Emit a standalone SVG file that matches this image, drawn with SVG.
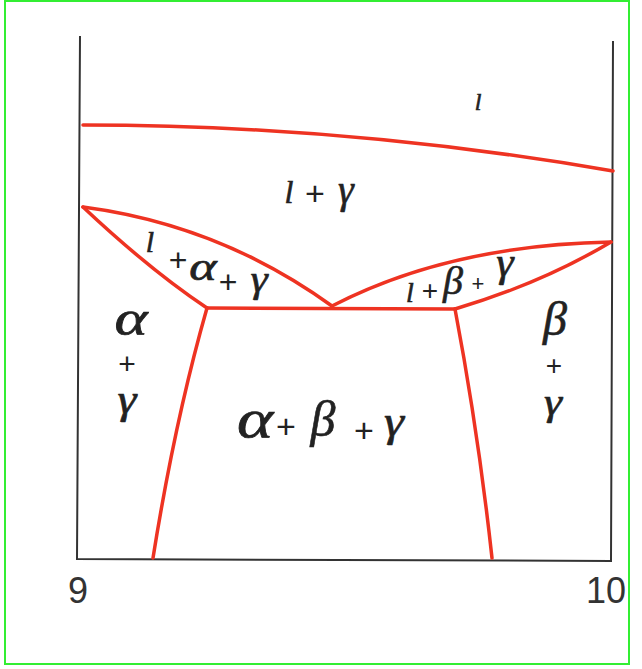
<svg xmlns="http://www.w3.org/2000/svg" width="642" height="669" viewBox="0 0 642 669">
<style>
.frame{fill:none;stroke:#33ee33;stroke-width:2}
.axis{fill:none;stroke:#333;stroke-width:2;stroke-linejoin:miter}
.ph{fill:none;stroke:#ee3322;stroke-width:3.5;stroke-linecap:round;stroke-linejoin:round}
.g{font-family:"Liberation Serif","DejaVu Serif",serif;font-style:italic;fill:#222;stroke:#222;stroke-width:0.6;text-anchor:middle}
.p{font-family:"Liberation Sans","DejaVu Sans",sans-serif;fill:#222;text-anchor:middle}
.num{font-family:"Liberation Sans","DejaVu Sans",sans-serif;fill:#333;font-size:36px}
</style>
<rect x="0" y="0" width="642" height="669" fill="#ffffff"/>
<rect class="frame" x="5" y="1" width="624" height="663"/>
<g id="axes">
<path class="axis" d="M80,36 L77,559 L611,561 L613,41"/>
<text class="num" x="68" y="603">9</text>
<text class="num" x="586" y="603">10</text>
</g>
<g id="connectors">
<path id="liquidus" class="ph" d="M83,125 Q348,125 613,171"/>
<path id="left-upper" class="ph" d="M83,207 Q220,225 332,306"/>
<path id="left-lower" class="ph" d="M83,207 Q150,270 207,308"/>
<path id="right-upper" class="ph" d="M332,306 Q450,245 611,242"/>
<path id="right-lower" class="ph" d="M455,309 Q540,284 611,242"/>
<path id="eutectic" class="ph" d="M207,308 L455,309"/>
<path id="left-solvus" class="ph" d="M207,308 Q175,420 153,558"/>
<path id="right-solvus" class="ph" d="M455,309 Q478,430 492,558"/>
</g>
<g id="region-l">
<text class="g" x="478" y="110" font-size="24">l</text>
</g>
<g id="region-l-gamma">
<text class="g" x="289" y="203" font-size="32">l</text>
<text class="p" x="315" y="205" font-size="34">+</text>
<text class="g" x="346" y="203" font-size="40">γ</text>
</g>
<g id="region-l-alpha-gamma">
<text class="g" x="150" y="252" font-size="30">l</text>
<text class="p" x="178" y="271" font-size="32">+</text>
<text class="g" transform="translate(203,280) scale(1.45,1.1)" font-size="36">α</text>
<text class="p" x="228" y="293" font-size="32">+</text>
<text class="g" transform="translate(259,292) scale(1.15,1)" font-size="38">γ</text>
</g>
<g id="region-l-beta-gamma">
<text class="g" x="410" y="302" font-size="28">l</text>
<text class="p" x="430" y="300" font-size="28">+</text>
<text class="g" x="453" y="294" font-size="40">β</text>
<text class="p" x="478" y="291" font-size="22">+</text>
<text class="g" transform="translate(505,276) scale(1.1,1)" font-size="40">γ</text>
</g>
<g id="region-alpha-gamma">
<text class="g" transform="translate(131,335) scale(1.5,1.2)" font-size="42">α</text>
<text class="p" x="127" y="374" font-size="30">+</text>
<text class="g" transform="translate(127,413) scale(1.2,1)" font-size="40">γ</text>
</g>
<g id="region-alpha-beta-gamma">
<text class="g" transform="translate(255,437) scale(1.5,1.2)" font-size="46">α</text>
<text class="p" x="286" y="438" font-size="34">+</text>
<text class="g" x="323" y="436" font-size="50">β</text>
<text class="p" x="364" y="442" font-size="34">+</text>
<text class="g" transform="translate(394,436) scale(1.15,1)" font-size="44">γ</text>
</g>
<g id="region-beta-gamma">
<text class="g" x="555" y="335" font-size="48">β</text>
<text class="p" x="554" y="375" font-size="28">+</text>
<text class="g" transform="translate(553,415) scale(1.2,1)" font-size="38">γ</text>
</g>
</svg>
